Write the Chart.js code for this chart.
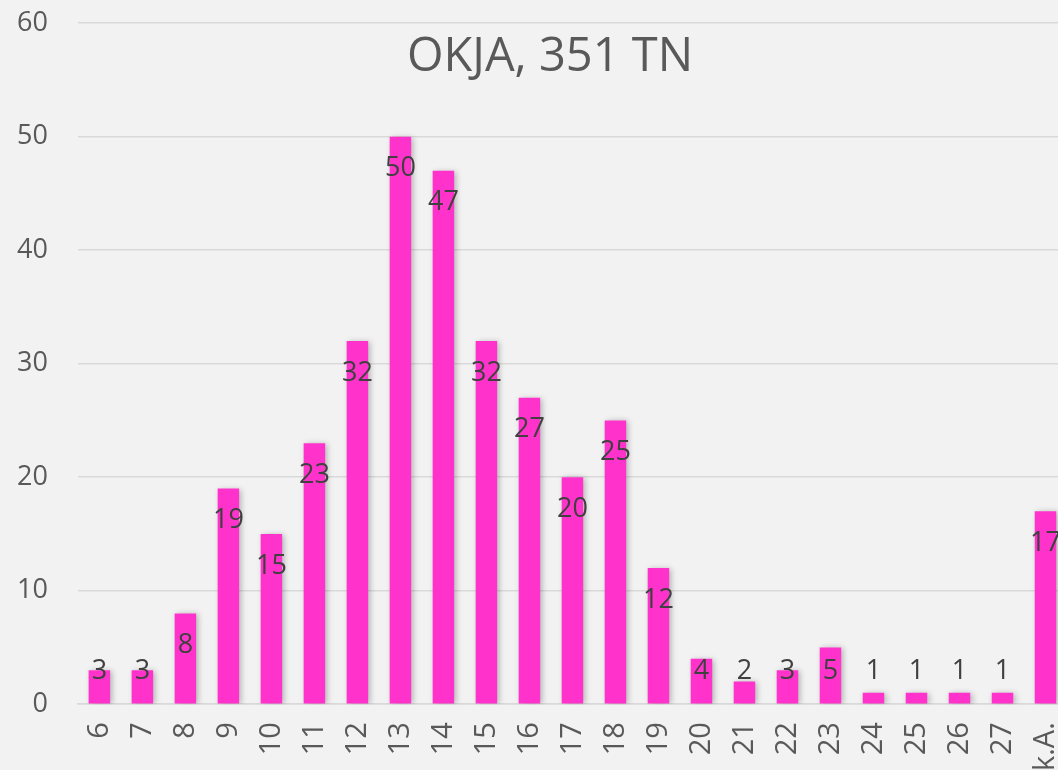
<!DOCTYPE html>
<html>
<head>
<meta charset="utf-8">
<script src="https://cdn.jsdelivr.net/npm/chart.js@4"></script>
<style>
  html, body { margin: 0; padding: 0; background: #f2f2f2; overflow: hidden; }
  canvas { display: block; position: absolute; left: -13px; top: -23px; }
</style>
</head>
<body>
<canvas id="myChart" width="1113" height="808"></canvas>
<script>
// Alter der Teilnehmenden
const categories = ['6', '7', '8', '9', '10', '11', '12', '13', '14', '15', '16', '17', '18', '19', '20', '21', '22', '23', '24', '25', '26', '27', 'k.A.'];
const counts = [3, 3, 8, 19, 15, 23, 32, 50, 47, 32, 27, 20, 25, 12, 4, 2, 3, 5, 1, 1, 1, 1, 17];
const titleText = 'OKJA, 351 TN';

const FONT = "'Open Sans', 'Noto Sans', sans-serif";

// leichter Schatten hinter den Balken
const barShadow = {
    id: 'barShadow',
    beforeDatasetsDraw(chart) {
        const ctx = chart.ctx;
        ctx.save();
        ctx.shadowColor = 'rgba(0,0,0,0.28)';
        ctx.shadowBlur = 6;
        ctx.shadowOffsetX = 2;
        ctx.shadowOffsetY = 1;
    },
    afterDatasetsDraw(chart) {
        chart.ctx.restore();
    }
};

// Werte an den Balken + Titel im Diagramm
const labelsAndTitle = {
    id: 'labelsAndTitle',
    afterDraw(chart) {
        const ctx = chart.ctx;
        const meta = chart.getDatasetMeta(0);
        const base = chart.scales.y.getPixelForValue(0);
        ctx.save();
        ctx.font = '27px ' + FONT;
        ctx.fillStyle = '#404040';
        ctx.textAlign = 'center';
        ctx.textBaseline = 'middle';
        meta.data.forEach((bar, i) => {
            const y = Math.min(bar.y + 32, base - 33);
            ctx.fillText(String(counts[i]), bar.x, y);
        });
        ctx.font = '47px ' + FONT;
        ctx.fillStyle = '#595959';
        ctx.fillText(titleText, 563, 81);
        ctx.restore();
    }
};

const graph = document.getElementById('myChart');

var barChart = new Chart(graph, {
    type: 'bar',
    data: {
        labels: categories,
        datasets: [{
            data: counts,
            backgroundColor: '#ff33cc',
            borderWidth: 0,
            barPercentage: 0.5,
            categoryPercentage: 1.0
        }]
    },
    options: {
        responsive: false,
        animation: false,
        layout: {
            padding: { top: 8, right: 33, left: 0, bottom: 4 }
        },
        plugins: {
            legend: { display: false },
            tooltip: { enabled: false }
        },
        scales: {
            x: {
                grid: { display: false },
                border: { color: '#d9d9d9', width: 1.5 },
                ticks: {
                    minRotation: 90,
                    maxRotation: 90,
                    padding: 10,
                    color: '#595959',
                    font: { size: 29, family: FONT }
                }
            },
            y: {
                min: 0,
                max: 60,
                border: { display: false },
                grid: { color: '#d9d9d9', lineWidth: 1.5, drawTicks: false },
                ticks: {
                    stepSize: 10,
                    padding: 30,
                    color: '#595959',
                    font: { size: 27, family: FONT }
                }
            }
        }
    },
    plugins: [barShadow, labelsAndTitle]
});
</script>
</body>
</html>
